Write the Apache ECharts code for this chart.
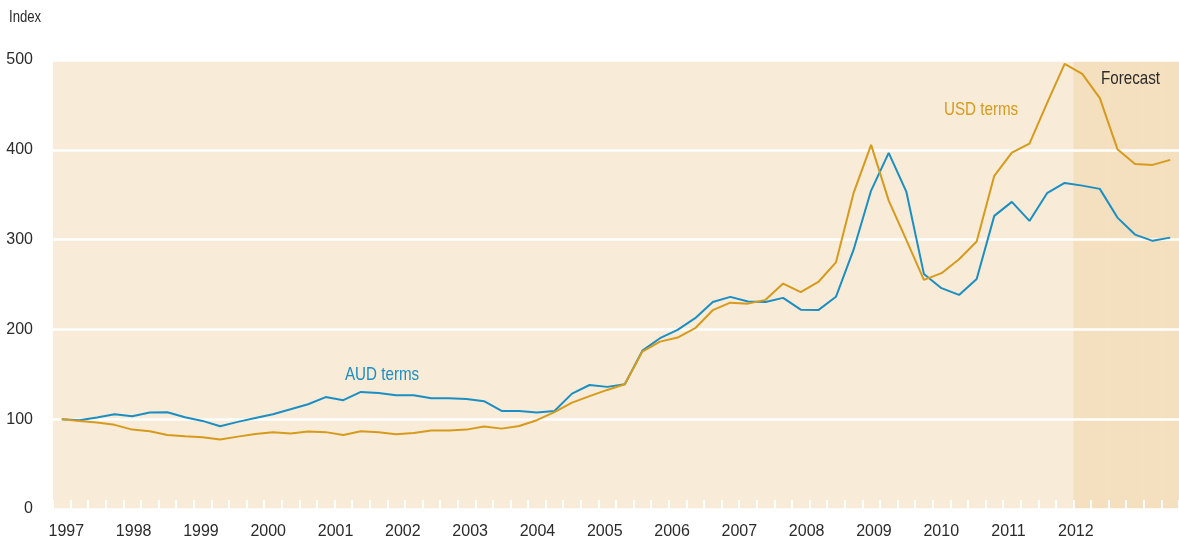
<!DOCTYPE html>
<html>
<head>
<meta charset="utf-8">
<script src="https://cdn.jsdelivr.net/npm/echarts@6/dist/echarts.min.js"></script>
<style>
  html, body { margin: 0; padding: 0; background: #fff; }
  #chart { width: 1179px; height: 545px; }
</style>
</head>
<body>
<div id="chart"></div>
<script>
// index, 1997 = 100, one value per period
const audTerms = [
  100, 98.9, 101.8, 105.6, 103.3, 107.4, 107.8, 102.2, 98.1, 92.2,
  97, 101.4, 105.6, 111.1, 116.7, 124.6, 121.2, 130.4, 129.3, 126.7,
  126.7, 123.4, 123.4, 122.6, 120, 109.2, 109.2, 107.4, 109.2, 128.5,
  138.1, 136, 139, 176.4, 190.2, 199.4, 212.5, 230.6, 236.2, 231,
  230.6, 235.1, 222, 221.5, 236.3, 288.5, 354.6, 396.5, 353.5, 261.8,
  245.9, 238.4, 256.2, 326.4, 342, 320.8, 351.7, 363.1, 360.1, 356.5,
  324.5, 305.6, 298.6, 302.2
];
const usdTerms = [
  100, 98.1, 96.2, 93.7, 88.4, 86.6, 82.5, 81, 79.9, 77.3,
  80.6, 83.6, 85.5, 84, 86.2, 85.6, 82.5, 86.6, 85.5, 83.3,
  84.7, 87.3, 87.3, 88.4, 91.8, 89.5, 92.5, 98.9, 107.8, 118.5,
  125.7, 132.6, 139, 175.3, 186.4, 190.9, 201.3, 221.4, 229.8, 228.7,
  232.9, 251, 241.4, 252.8, 274.6, 351.7, 405.5, 343.4, 299.7, 255.1,
  262.6, 278.2, 297.8, 371, 396.9, 406.9, 451.9, 495.7, 484.5, 457.5,
  400.7, 384.3, 383.2, 388.8
];
const yearLabels = [1997, 1998, 1999, 2000, 2001, 2002, 2003, 2004,
  2005, 2006, 2007, 2008, 2009, 2010, 2011, 2012];
const forecastStart = 58; // first forecast period

const periods = audTerms.map((_, i) => String(i));
const forecastBand = periods.map((_, i) => (i >= forecastStart ? 500 : null));

const FONT = "'Liberation Sans', Arial, sans-serif";
const BLUE = "#1b8ec3";
const GOLD = "#d69b1d";
const TEXT = "#2b2b2b";

const chart = echarts.init(document.getElementById("chart"), null, { renderer: "canvas" });

// narrow-looking annotation text
const note = (text, x, y, size, color) => ({
  type: "text",
  x: x,
  y: y,
  scaleX: 0.82,
  z: 10,
  style: { text: text, font: `${size}px ${FONT}`, fill: color, verticalAlign: "middle" },
});

const option = {
  animation: false,
  textStyle: { fontFamily: FONT },
  grid: {
    left: 53,
    right: 0,
    top: 60,
    bottom: 36,
    show: true,
    backgroundColor: "#f8ebd8",
    borderWidth: 0,
  },
  xAxis: [
    {
      type: "category",
      data: periods,
      boundaryGap: true,
      z: 3,
      axisLine: { show: false },
      axisTick: {
        show: true,
        inside: true,
        interval: 0,
        length: 9,
        lineStyle: { color: "#ffffff", width: 2 },
      },
      axisLabel: { show: false },
      splitLine: { show: false },
    },
    {
      type: "value",
      position: "bottom",
      min: 1996.802,
      max: 2013.533,
      axisLine: { show: false },
      axisTick: { show: false },
      splitLine: { show: false },
      axisLabel: {
        customValues: yearLabels,
        formatter: (v) => String(Math.round(v)),
        color: TEXT,
        fontSize: 16,
        fontFamily: FONT,
        margin: 15,
      },
    },
  ],
  yAxis: {
    type: "value",
    min: 0,
    max: 500,
    interval: 100,
    z: 3,
    axisLine: { show: false },
    axisTick: { show: false },
    axisLabel: {
      color: TEXT,
      fontSize: 16,
      fontFamily: FONT,
      margin: 20,
    },
    splitLine: {
      show: true,
      lineStyle: { color: "#ffffff", width: 2.5 },
    },
  },
  series: [
    {
      name: "Forecast",
      type: "bar",
      data: forecastBand,
      barCategoryGap: "0%",
      silent: true,
      z: 1,
      itemStyle: { color: "#f4dfbf" },
    },
    {
      name: "AUD terms",
      type: "line",
      data: audTerms,
      showSymbol: false,
      z: 5,
      lineStyle: { color: BLUE, width: 2 },
      itemStyle: { color: BLUE },
    },
    {
      name: "USD terms",
      type: "line",
      data: usdTerms,
      showSymbol: false,
      z: 5,
      lineStyle: { color: GOLD, width: 2 },
      itemStyle: { color: GOLD },
    },
  ],
  graphic: [
    note("Index", 9, 18, 16, TEXT),
    note("AUD terms", 345, 375, 18.5, BLUE),
    note("USD terms", 944, 110, 18.5, GOLD),
    note("Forecast", 1101, 79, 18.5, TEXT),
  ],
};

chart.setOption(option);
</script>
</body>
</html>
